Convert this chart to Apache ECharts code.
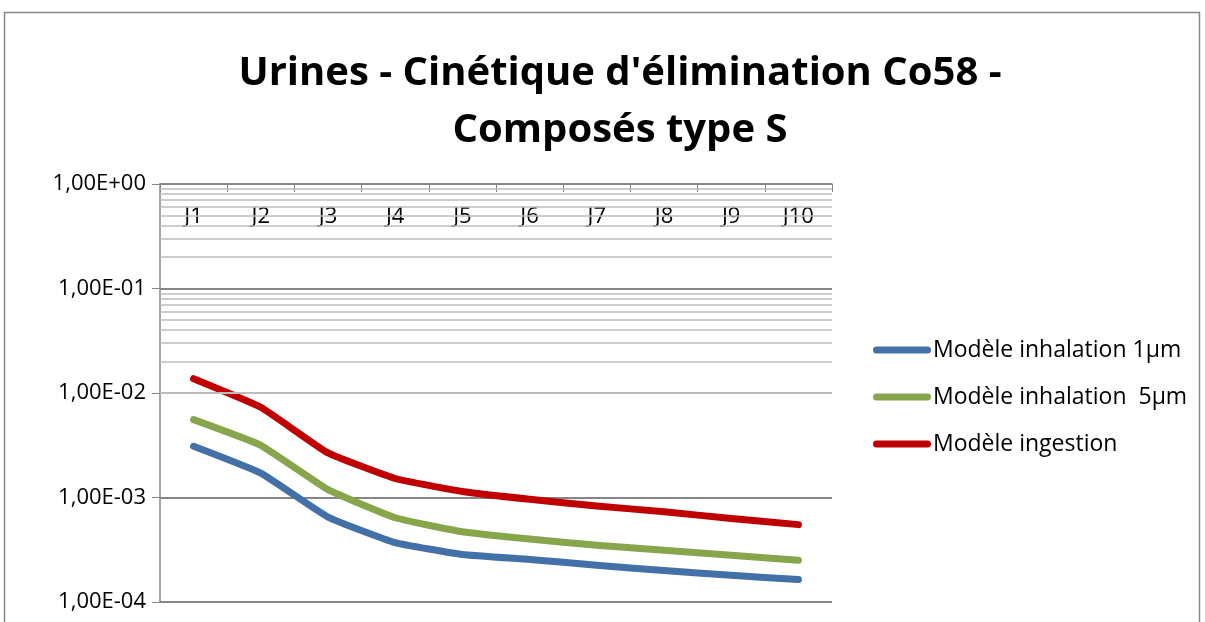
<!DOCTYPE html>
<html>
<head>
<meta charset="utf-8">
<script src="https://cdn.jsdelivr.net/npm/echarts@6/dist/echarts.min.js"></script>
<style>html,body{margin:0;padding:0;background:#fff;}#c{width:1205px;height:622px;}</style>
</head>
<body>
<div id="c"></div>
<script>
const categories = ['J1','J2','J3','J4','J5','J6','J7','J8','J9','J10'];
const inhal1 = [3.09e-3, 1.71e-3, 6.5e-4, 3.7e-4, 2.85e-4, 2.55e-4, 2.25e-4, 2.0e-4, 1.8e-4, 1.64e-4];
const inhal5 = [5.56e-3, 3.16e-3, 1.19e-3, 6.4e-4, 4.7e-4, 4.0e-4, 3.5e-4, 3.13e-4, 2.8e-4, 2.51e-4];
const ingestion = [1.37e-2, 7.3e-3, 2.67e-3, 1.52e-3, 1.14e-3, 9.6e-4, 8.3e-4, 7.3e-4, 6.3e-4, 5.5e-4];
const seriesNames = ['Modèle inhalation 1µm', 'Modèle inhalation  5µm', 'Modèle ingestion'];
const yMin = 1e-4, yMax = 1;
const minorMultipliers = [2,3,4,5,6,7,8,9];
const decades = [1e-4, 1e-3, 1e-2, 1e-1];

const minorLines = [];
decades.forEach(d => minorMultipliers.forEach(m => minorLines.push({yAxis: +(d*m).toPrecision(3)})));

function fmt(v){
  const e = Math.round(Math.log10(v));
  const m = v / Math.pow(10, e);
  const sign = e < 0 ? '-' : '+';
  const ae = Math.abs(e);
  return m.toFixed(2).replace('.', ',') + 'E' + sign + (ae < 10 ? '0' + ae : ae);
}

const FONT = 'Open Sans';
const chart = echarts.init(document.getElementById('c'));
const colors = ['#4370A7', '#87A54A', '#C00000'];
const capsule = 'path://M3.5,0 H54.5 A3.5,3.5 0 0 1 54.5,7 H3.5 A3.5,3.5 0 0 1 3.5,0 Z';

chart.setOption({
  animation: false,
  backgroundColor: '#fff',
  color: colors,
  title: {
    text: 'Urines - Cinétique d\'élimination Co58 -\nComposés type S',
    left: 615,
    textAlign: 'center',
    top: 40,
    textStyle: {fontFamily: FONT, fontWeight: 'bold', fontSize: 40, lineHeight: 57, color: '#000'}
  },
  graphic: [{
    type: 'rect', shape: {x: 4.5, y: 12.5, width: 1195, height: 700},
    style: {fill: 'none', stroke: '#868686', lineWidth: 1.5}, z: -1
  }],
  legend: {
    orient: 'vertical',
    left: 868,
    top: 333,
    itemWidth: 58,
    itemHeight: 7,
    itemGap: 23,
    icon: capsule,
    data: seriesNames,
    textStyle: {fontFamily: FONT, fontSize: 23, color: '#000', lineHeight: 24, padding: [0,0,0,-3]}
  },
  grid: {left: 160, right: 373, top: 184, bottom: 20, containLabel: false},
  xAxis: {
    type: 'category',
    position: 'top',
    data: categories,
    boundaryGap: true,
    axisLine: {show: true, lineStyle: {color: '#868686', width: 1.5}},
    axisTick: {show: true, inside: true, length: 8, interval: 0, lineStyle: {color: '#868686'}},
    axisLabel: {inside: true, margin: 22, interval: 0, fontFamily: FONT, fontSize: 22, color: '#000'},
    splitLine: {show: false}
  },
  yAxis: {
    type: 'log',
    logBase: 10,
    min: yMin,
    max: yMax,
    axisLine: {show: true, lineStyle: {color: '#868686', width: 1.5}},
    axisTick: {show: true, inside: false, length: 8, lineStyle: {color: '#868686'}},
    axisLabel: {formatter: fmt, margin: 14, fontFamily: FONT, fontSize: 22, color: '#000'},
    splitLine: {show: true, lineStyle: {color: '#868686', width: 2}}
  },
  series: [
    {
      name: '_grid', type: 'line', data: [], z: 1, silent: true,
      markLine: {
        silent: true, symbol: ['none','none'], label: {show: false},
        lineStyle: {color: '#bdbdbd', width: 1.6, type: 'solid'},
        emphasis: {disabled: true},
        data: minorLines
      }
    },
    {name: seriesNames[0], type: 'line', data: inhal1, smooth: 0.12, showSymbol: false, symbol: 'none', z: 3,
     lineStyle: {width: 7, color: colors[0], cap: 'round', join: 'round'}, itemStyle: {color: colors[0]}},
    {name: seriesNames[1], type: 'line', data: inhal5, smooth: 0.12, showSymbol: false, symbol: 'none', z: 3,
     lineStyle: {width: 7, color: colors[1], cap: 'round', join: 'round'}, itemStyle: {color: colors[1]}},
    {name: seriesNames[2], type: 'line', data: ingestion, smooth: 0.12, showSymbol: false, symbol: 'none', z: 3,
     lineStyle: {width: 7, color: colors[2], cap: 'round', join: 'round'}, itemStyle: {color: colors[2]}}
  ]
});
</script>
</body>
</html>
